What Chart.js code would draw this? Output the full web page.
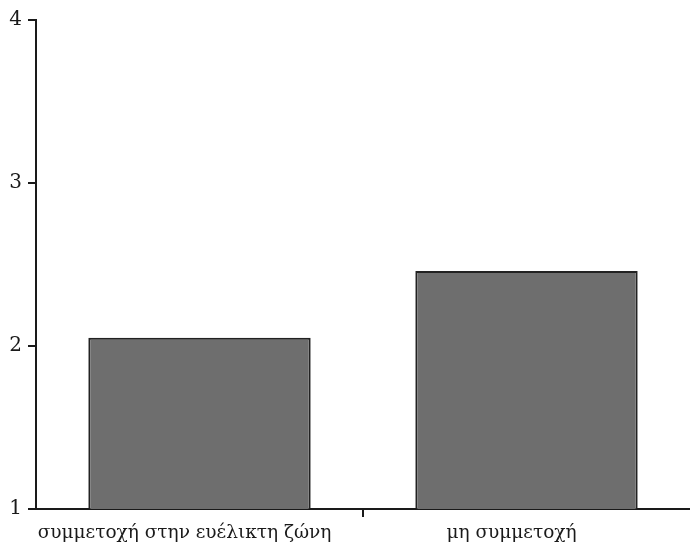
<!DOCTYPE html>
<html>
<head>
<meta charset="utf-8">
<script src="https://cdn.jsdelivr.net/npm/chart.js@4/dist/chart.umd.min.js"></script>
<style>
  html, body { margin: 0; padding: 0; background: #fff; }
  #wrap { width: 690px; height: 546px; }
</style>
</head>
<body>
<div id="wrap"><canvas id="chart" width="690" height="546"></canvas></div>
<script>
// Data
const categories = ['συμμετοχή στην ευέλικτη ζώνη', 'μη συμμετοχή']
const values = [2.05, 2.46]
const yTicks = [1, 2, 3, 4]

const INK = '#1a1a1a'
const SERIF = '"DejaVu Serif", serif'

// short tick marks to the left of the y axis, placed by the scale
const yTickMarks = {
  id: 'yTickMarks',
  afterDraw(chart) {
    const y = chart.scales.y
    const ctx = chart.ctx
    ctx.save()
    ctx.strokeStyle = INK
    ctx.lineWidth = 2
    y.ticks.forEach(t => {
      const py = Math.round(y.getPixelForValue(t.value))
      ctx.beginPath()
      ctx.moveTo(y.right - 8, py)
      ctx.lineTo(y.right, py)
      ctx.stroke()
    })
    ctx.restore()
  }
}

new Chart(document.getElementById('chart'), {
  type: 'bar',
  data: {
    labels: categories,
    datasets: [{
      data: values,
      backgroundColor: '#6e6e6e',
      borderColor: '#222',
      borderWidth: 2,
      categoryPercentage: 1,
      barPercentage: 0.68
    }]
  },
  options: {
    responsive: false,
    animation: false,
    layout: { padding: { top: 20, right: 0, left: 0, bottom: 0 } },
    plugins: { legend: { display: false }, tooltip: { enabled: false } },
    scales: {
      y: {
        min: 1,
        max: 4,
        afterBuildTicks: (scale) => { scale.ticks = yTicks.map(v => ({ value: v })) },
        afterFit: (scale) => { scale.width = 36 },
        border: { display: true, color: INK, width: 2 },
        grid: { display: false },
        ticks: { color: INK, font: { family: SERIF, size: 20 }, padding: 6 }
      },
      x: {
        afterFit: (scale) => { scale.height = 37 },
        border: { display: true, color: INK, width: 2 },
        grid: {
          drawOnChartArea: false,
          tickLength: 8,
          lineWidth: 2,
          color: (ctx) => ctx.index === 1 ? INK : 'rgba(0,0,0,0)'
        },
        ticks: { color: INK, font: { family: SERIF, size: 18.5 }, padding: 5, labelOffset: -15, maxRotation: 0 }
      }
    }
  },
  plugins: [yTickMarks]
})
</script>
</body>
</html>
